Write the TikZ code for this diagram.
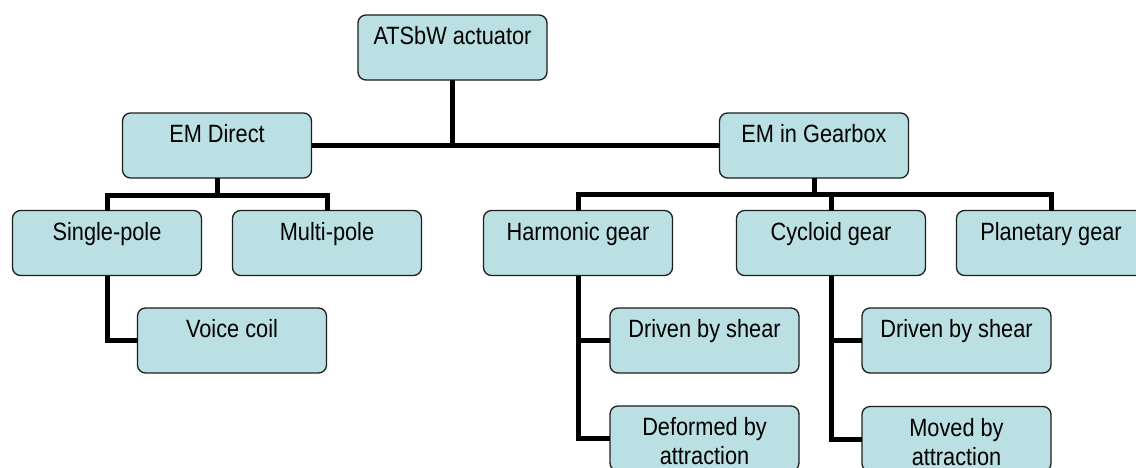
\documentclass[tikz,border=0pt]{standalone}
\usepackage{fontspec}
\setmainfont{Liberation Sans}[FakeStretch=0.87]
\definecolor{boxfill}{RGB}{187,224,227}
\definecolor{boxline}{RGB}{30,30,30}
\newcommand{\boxtext}[1]{\parbox[t][65pt][t]{189pt}{\centering\fontsize{25}{29}\selectfont\rule{0pt}{29.5pt}#1}}
\tikzset{
  orgbox/.style={rectangle, draw=boxline, line width=1.3pt, fill=boxfill, rounded corners=8pt, inner sep=0pt, outer sep=0pt},
  link/.style={line width=5pt, black}
}
\begin{document}
\begin{tikzpicture}[x=1pt,y=-1pt]
\useasboundingbox (0,0) rectangle (1136,467);
\clip (0,0) rectangle (1136,467);
\fill[white] (0,0) rectangle (1136,467);
\coordinate (barL) at (0,195);
\coordinate (barR) at (0,194.5);

\node[orgbox] (top) at (452.5,47.5) {\boxtext{ATSbW actuator}};
\node[orgbox] (emd) at (217,145.5) {\boxtext{EM Direct}};
\node[orgbox] (emg) at (814,145.5) {\boxtext{EM in Gearbox}};
\node[orgbox] (sp) at (107,243) {\boxtext{Single-pole}};
\node[orgbox] (mp) at (327,243) {\boxtext{Multi-pole}};
\node[orgbox] (vc) at (232,340.5) {\boxtext{Voice coil}};
\node[orgbox] (hg) at (578,243) {\boxtext{Harmonic gear}};
\node[orgbox] (cg) at (831,243) {\boxtext{Cycloid gear}};
\node[orgbox] (pg) at (1051,243) {\boxtext{Planetary gear}};
\node[orgbox] (ds1) at (704.5,340.5) {\boxtext{Driven by shear}};
\node[orgbox] (dfa) at (704.5,438.5) {\boxtext{Deformed by\\attraction}};
\node[orgbox] (ds2) at (956.5,340.5) {\boxtext{Driven by shear}};
\node[orgbox] (mva) at (956.5,439) {\boxtext{Moved by\\attraction}};

\draw[link] (top.south) -- (top.south |- emd.east);
\draw[link] (emd.east) -- (emg.west);
\draw[link] (emd.south) -- (emd.south |- barL);
\draw[link] (sp.north) |- (mp.north |- barL) -- (mp.north);
\draw[link] (sp.south) |- (vc.west);
\draw[link] (emg.south) -- (emg.south |- barR);
\draw[link] (hg.north) |- (pg.north |- barR) -- (pg.north);
\draw[link] (cg.north) -- (cg.north |- barR);
\draw[link] (hg.south) |- (ds1.west);
\draw[link] (hg.south) |- (dfa.west);
\draw[link] (cg.south) |- (ds2.west);
\draw[link] (cg.south) |- (mva.west);
\end{tikzpicture}
\end{document}
